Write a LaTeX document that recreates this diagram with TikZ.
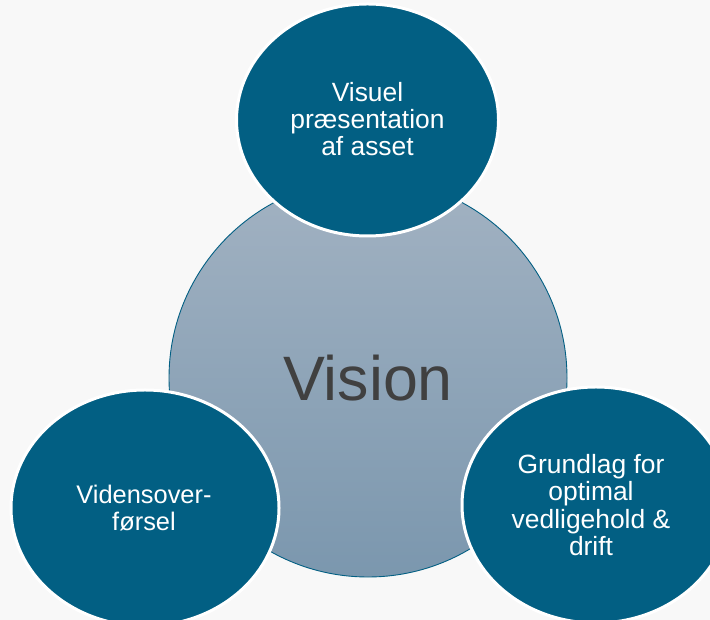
\documentclass[tikz,border=0pt]{standalone}
\usepackage{fontspec}
\setmainfont{Liberation Sans}
\usetikzlibrary{shapes.geometric}
\definecolor{bgc}{HTML}{F8F8F8}
\definecolor{teal}{HTML}{025F83}
\definecolor{gtop}{HTML}{A2B2C2}
\definecolor{gbot}{HTML}{7B97AE}
\definecolor{vistext}{HTML}{404040}
\tikzset{
  bubble/.style={ellipse, fill=teal, draw=white, line width=3bp, inner sep=0pt,
    minimum width=262bp, minimum height=232bp},
  btext/.style={text=white, align=center, inner sep=0pt,
    font=\fontsize{26.5}{27.5}\selectfont},
  hub/.style={circle, draw=teal, line width=0.9bp, top color=gtop, bottom color=gbot,
    minimum size=398bp, inner sep=0pt, text=vistext, font=\fontsize{63}{70}\selectfont}
}
\begin{document}
\begin{tikzpicture}[x=1bp,y=1bp]
\useasboundingbox (0,0) rectangle (710,620);
\fill[bgc] (0,0) rectangle (710,620);
\node[hub] (vision) at (368,242) {Vision};
\begin{scope}
\clip (0,0) rectangle (710,620);
\node[bubble] (top) at (367.5,500) {};
\node[btext] (toptext) at (367.5,501) {Visuel\\præsentation\\af asset};
\node[bubble, minimum width=268bp, minimum height=236bp] (left) at (145,112) {};
\node[btext, font=\fontsize{25.5}{27.5}\selectfont] (lefttext) at (144,112) {Vidensover-\\førsel};
\node[bubble, minimum width=268bp, minimum height=236bp] (right) at (596,115) {};
\node[btext] (righttext) at (591,115) {Grundlag for\\optimal\\vedligehold \&\\drift};
\end{scope}
\end{tikzpicture}
\end{document}
